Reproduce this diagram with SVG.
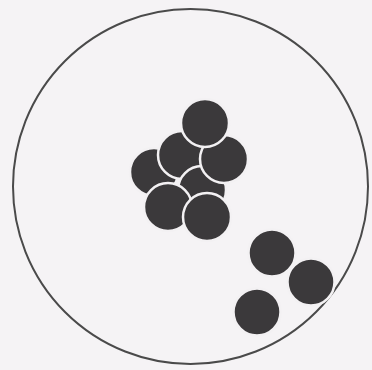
<svg xmlns="http://www.w3.org/2000/svg" width="372" height="370" viewBox="0 0 372 370">
<style>
.b{fill:#3b393b;stroke:#f3f1f3;stroke-width:2.5}
</style>
<rect width="372" height="370" fill="#f5f3f5"/>
<circle cx="190.5" cy="186.5" r="177.5" fill="#f5f3f5" stroke="#4a4a4a" stroke-width="2"/>
<g id="cluster">
<circle class="b" cx="154" cy="172" r="24"/>
<circle class="b" cx="182" cy="155" r="24"/>
<circle class="b" cx="202" cy="190" r="24"/>
<circle class="b" cx="224" cy="159" r="24"/>
<circle class="b" cx="205" cy="123" r="24"/>
<circle class="b" cx="168" cy="207" r="24"/>
<circle class="b" cx="207" cy="217" r="24"/>
</g>
<g id="trio">
<circle class="b" cx="272" cy="253" r="23.5"/>
<circle class="b" cx="311" cy="282" r="23.5"/>
<circle class="b" cx="257" cy="312" r="23.5"/>
</g>
</svg>
